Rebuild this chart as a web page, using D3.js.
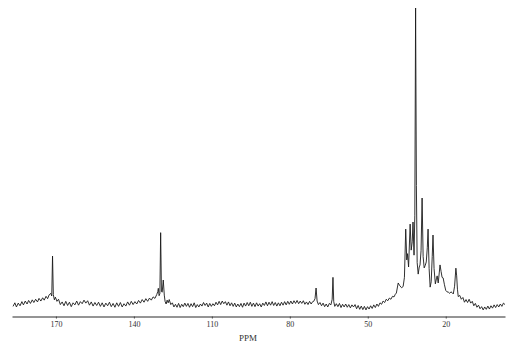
<!DOCTYPE html>
<html>
<head>
<meta charset="utf-8">
<script src="https://cdn.jsdelivr.net/npm/d3@7"></script>
<style>
  html, body { margin: 0; padding: 0; background: #fff; }
  svg { display: block; }
</style>
</head>
<body>
<div id="chart"></div>
<script>
// axis
const tickValues = [170, 140, 110, 80, 50, 20];
const axisTitle = 'PPM';
const ppmDomain = [186.9, -2.8];

// spectrum trace, [ppm, intensity], tallest peak = 100
const carbonylRegion = [
  [186.5, -0.8], [185.8, 0.4], [185.2, -1.0], [184.5, 0.3], [183.8, -0.6], [183.1, 0.8],
  [182.5, -0.3], [181.8, 1.0], [181.1, 0.0], [180.5, 1.2], [179.8, 0.2], [179.1, 1.4],
  [178.5, 0.5], [177.8, 1.6], [177.1, 0.7], [176.5, 1.9], [175.8, 1.0], [175.1, 2.1],
  [174.5, 1.3], [173.8, 2.6], [173.2, 1.8], [172.6, 3.1], [172, 3.6], [171.6, 2.7],
  [171.3, 16.2], [171.0, 3.2], [170.6, 1.4], [170.2, 2.3], [169.6, 0.9], [169, 1.6],
  [168.3, -0.2], [167.6, 0.7], [166.9, -0.6], [166.2, 0.9], [165.5, -0.5], [164.8, 0.6],
  [164.1, -0.9], [163.4, 0.4], [162.7, -0.3], [162.0, 1.0], [161.3, -0.4], [160.6, 0.8],
  [159.9, 0.1], [159.2, 1.3], [158.5, 0.3], [157.8, 1.1], [157.1, -0.4], [156.4, 0.7],
  [155.7, -0.7], [155.0, 0.5], [154.3, -0.5], [153.6, 0.6], [152.9, -0.8], [152.2, 0.4],
  [151.5, -1.0], [150.8, 0.3], [150.1, -0.6], [149.4, 0.6], [148.7, -0.9], [148.0, 0.2],
  [147.3, -1.1], [146.6, 0.4], [145.9, -0.8], [145.2, 0.5], [144.5, -1.0], [143.8, 0.1],
  [143.1, -0.7], [142.4, 0.7], [141.7, -0.4], [141.0, 0.9], [140.3, -0.2], [139.6, 0.8],
  [138.9, 0.0], [138.2, 1.2], [137.5, 0.3], [136.8, 1.5], [136.1, 0.6], [135.4, 1.8],
  [134.7, 0.9], [134.0, 2.0], [133.3, 1.3], [132.6, 2.4], [131.9, 1.9], [131.2, 3.2]
];

const aromaticRegion = [
  [130.8, 4.2], [130.6, 5.3], [130.3, 2.8], [130.0, 3.5], [129.7, 24.1], [129.4, 4.2],
  [129.1, 4.0], [128.7, 8.1], [128.3, 3.0], [128.0, 0.9], [127.6, 0.0], [127.2, 1.3],
  [126.8, 0.4], [126.4, 1.5], [125.8, -0.2], [125.2, 0.4], [124.6, -1.0], [124.0, -0.1],
  [123.4, -1.1], [122.8, 0.2], [122.2, -1.2], [121.6, -0.1], [121.0, -0.9], [120.4, 0.3],
  [119.8, -0.8], [119.2, 0.2], [118.6, -1.1], [118.0, 0.1], [117.4, -0.9], [116.8, 0.4],
  [116.2, -1.2], [115.6, -0.2], [115.0, -1.0], [114.4, 0.0], [113.8, -0.7], [113.2, 0.5],
  [112.6, -0.5], [112.0, 0.3], [111.4, -1.0], [110.8, 0.2], [110.2, -0.8], [109.6, 0.1],
  [109.0, -0.6], [108.4, 0.6], [107.8, -0.3], [107.2, 0.9], [106.6, -0.2], [106.0, 1.0],
  [105.4, 0.1], [104.8, 0.8], [104.2, -0.4], [103.6, 0.7], [103.0, -0.6], [102.4, 0.4],
  [101.8, -0.8], [101.2, 0.3], [100.6, -1.0], [100.0, 0.0], [99.4, -0.9], [98.8, 0.2],
  [98.2, -1.1], [97.6, 0.3], [97.0, -0.7], [96.4, 0.5], [95.8, -0.6], [95.2, 0.6],
  [94.6, -0.8], [94.0, 0.3], [93.4, -0.9], [92.8, 0.4], [92.2, -0.7], [91.6, 0.1],
  [91.0, -1.0], [90.4, 0.3], [89.8, -0.5], [89.2, 0.7], [88.6, -0.6], [88.0, 0.6],
  [87.4, -0.4], [86.8, 0.8], [86.2, -0.5], [85.6, 0.5], [85.0, -0.7], [84.4, 0.4],
  [83.8, -0.6], [83.2, 0.6], [82.6, -0.4], [82.0, 0.8], [81.4, -0.3], [80.8, 0.9],
  [80.2, -0.1], [79.6, 1.0], [79.0, 0.0], [78.4, 1.1], [77.8, 0.2], [77.2, 1.2],
  [76.6, 0.1], [76.0, 1.0], [75.4, 0.2], [74.8, 1.1], [74.2, -0.1], [73.6, 0.7],
  [73.0, -0.2], [72.4, 0.9], [71.8, 0.0], [71.2, 0.8]
];

const oxyRegion = [
  [70.8, 0.9], [70.3, 1.8], [69.9, 5.4], [69.5, 1.0], [69.0, -0.2], [68.4, 0.5],
  [67.8, -0.6], [67.2, 0.3], [66.6, -0.9], [66.0, 0.0], [65.4, -1.0], [64.8, 0.2],
  [64.2, -0.3], [63.7, 1.6], [63.4, 9.0], [63.1, 0.8], [62.7, -0.8], [62.1, 0.1],
  [61.5, -0.9], [60.9, 0.2], [60.3, -1.2], [59.7, -0.1], [59.1, -1.0], [58.5, 0.0],
  [57.9, -1.1], [57.3, -0.2], [56.7, -1.3], [56.1, -0.3], [55.5, -1.0], [54.9, -0.2],
  [54.3, -1.6], [53.7, -0.5], [53.1, -1.8], [52.5, -0.7], [51.9, -1.9], [51.3, -0.8],
  [50.7, -2.0], [50.1, -0.9], [49.5, -1.7], [48.9, -0.6], [48.3, -1.5], [47.7, -0.3],
  [47.1, -1.2], [46.5, 0.0], [45.9, -0.8], [45.3, 0.4], [44.7, -0.1], [44.1, 1.0],
  [43.5, 0.5], [42.9, 1.6], [42.3, 1.1], [41.7, 2.0], [41.1, 1.6], [40.5, 2.6],
  [39.9, 2.4], [39.4, 3.3], [39.0, 3.7]
];

const aliphaticRegion = [
  [38.3, 7.1], [37.7, 6.2], [37.0, 5.5], [36.4, 5.9], [35.9, 9.0], [35.4, 25.3],
  [35.0, 14.9], [34.7, 17.0], [34.3, 12.5], [33.7, 27.0], [33.3, 18.2], [32.9, 21.0],
  [32.6, 27.7], [32.2, 16.5], [31.9, 30.0], [31.6, 100], [31.3, 40], [31.0, 14.0],
  [30.6, 10.1], [30.2, 12.5], [29.9, 13.2], [29.5, 18.0], [29.1, 35.8], [28.7, 16.0],
  [28.3, 12.2], [27.9, 13.0], [27.5, 14.2], [27.1, 19.0], [26.8, 25.3], [26.4, 12.0],
  [26.0, 5.7], [25.6, 7.5], [25.2, 16.0], [24.9, 23.3], [24.5, 12.0], [24.0, 6.8],
  [23.6, 8.5], [23.3, 9.5], [22.9, 7.1], [22.5, 10.5], [22.2, 13.2], [21.8, 11.0],
  [21.4, 9.0], [21.0, 8.8], [20.5, 6.5], [20.0, 4.6], [19.5, 4.1], [19.0, 4.0],
  [18.5, 3.6], [18.0, 4.1], [17.5, 3.8], [17.1, 3.4], [16.6, 6.0], [16.1, 12.1],
  [15.8, 9.5], [15.5, 5.0], [15.2, 2.5], [14.6, 2.9], [14.0, 1.6], [13.4, 2.2],
  [12.8, 0.6], [12.2, 1.5], [11.6, 0.5], [11.0, 1.6], [10.4, 0.3], [9.8, 0.9],
  [9.2, -0.6], [8.6, 0.2], [8.0, -1.1], [7.4, -0.4], [6.8, -1.6], [6.2, -0.9],
  [5.6, -2.0], [5.0, -1.0], [4.4, -1.8], [3.8, -0.7], [3.2, -1.7], [2.6, -0.6],
  [2.0, -1.4], [1.4, -0.3], [0.8, -1.2], [0.2, -0.2], [-0.4, -1.0], [-1.0, 0.0],
  [-1.6, -0.8], [-2.2, 0.3], [-2.8, -0.2]
];

const spectrum = [...carbonylRegion, ...aromaticRegion, ...oxyRegion, ...aliphaticRegion];

const width = 512;
const height = 349;
const axisY = 316.5;

const svg = d3.select('#chart').append('svg')
  .attr('width', width)
  .attr('height', height);

const x = d3.scaleLinear()
  .domain(ppmDomain)
  .range([12, 505]);

const y = d3.scaleLinear()
  .domain([0, 100])
  .range([304, 8]);

const line = d3.line()
  .x(d => x(d[0]))
  .y(d => y(d[1]));

svg.append('path')
  .datum(spectrum)
  .attr('fill', 'none')
  .attr('stroke', '#1a1a1a')
  .attr('stroke-width', 0.9)
  .attr('stroke-linejoin', 'round')
  .attr('d', line);

const axis = svg.append('g')
  .attr('transform', `translate(0,${axisY})`)
  .call(d3.axisBottom(x)
    .tickValues(tickValues)
    .tickSizeInner(2)
    .tickSizeOuter(0)
    .tickPadding(3));

axis.select('.domain')
  .attr('stroke', '#2a2a2a')
  .attr('stroke-width', 1);

axis.selectAll('.tick line')
  .attr('stroke', '#444');

axis.selectAll('.tick text')
  .attr('font-family', '"Liberation Serif", "DejaVu Serif", serif')
  .attr('font-size', 8)
  .attr('fill', '#333');

svg.append('text')
  .attr('x', 248)
  .attr('y', 340.5)
  .attr('text-anchor', 'middle')
  .attr('font-family', '"Liberation Serif", "DejaVu Serif", serif')
  .attr('font-size', 9)
  .attr('fill', '#333')
  .text(axisTitle);
</script>
</body>
</html>
